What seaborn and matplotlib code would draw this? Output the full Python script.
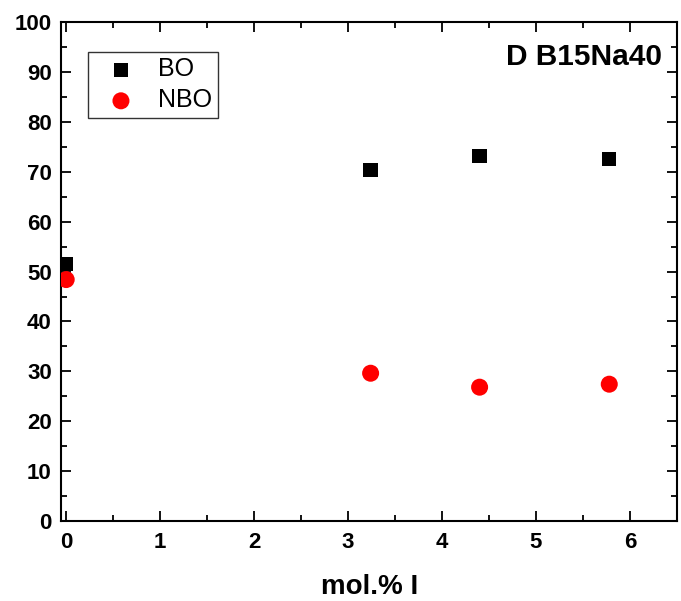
import matplotlib
matplotlib.use("Agg")
import matplotlib.pyplot as plt
from matplotlib.ticker import MultipleLocator
import seaborn as sns
import pandas as pd

# Iodine content (mol.%) and oxygen speciation fractions (%)
iodine_mol = [0.0, 3.24, 4.40, 5.78]
bo_values = [51.6, 70.4, 73.2, 72.6]
nbo_values = [48.4, 29.6, 26.8, 27.4]
series_names = ["BO", "NBO"]
sample_label = "D B15Na40"
x_label = "mol.% I"

sns.set_theme(style="ticks")
plt.rcParams["font.family"] = ["Liberation Sans", "DejaVu Sans"]
plt.rcParams["text.color"] = "black"
plt.rcParams["axes.labelcolor"] = "black"
plt.rcParams["xtick.color"] = "black"
plt.rcParams["ytick.color"] = "black"

df = pd.concat([
    pd.DataFrame({"x": iodine_mol, "y": bo_values, "series": series_names[0]}),
    pd.DataFrame({"x": iodine_mol, "y": nbo_values, "series": series_names[1]}),
])

fig = plt.figure(figsize=(6.81, 6.01), dpi=100)
ax = fig.add_axes([0.0903, 0.1336, 0.9037, 0.829])

sns.scatterplot(data=df[df.series == "BO"], x="x", y="y", marker="s", s=105,
                color="black", edgecolor="none", ax=ax, label="BO", zorder=3)
sns.scatterplot(data=df[df.series == "NBO"], x="x", y="y", marker="o", s=150,
                color="red", edgecolor="none", ax=ax, label="NBO", zorder=3)

ax.set_xlim(-0.05, 6.5)
ax.set_ylim(0, 100)
ax.xaxis.set_major_locator(MultipleLocator(1))
ax.xaxis.set_minor_locator(MultipleLocator(0.5))
ax.yaxis.set_major_locator(MultipleLocator(10))
ax.yaxis.set_minor_locator(MultipleLocator(5))

for side in ["left", "right", "top", "bottom"]:
    ax.spines[side].set_visible(True)
    ax.spines[side].set_linewidth(1.5)
    ax.spines[side].set_color("black")

ax.tick_params(which="both", direction="in", top=True, right=True,
               color="black", labelcolor="black", width=1.3)
ax.tick_params(which="major", length=7, labelsize=16, pad=7)
ax.tick_params(which="minor", length=4)
for lbl in ax.get_xticklabels() + ax.get_yticklabels():
    lbl.set_fontweight("bold")
ax.tick_params(axis="x", which="major", pad=8)

ax.set_xlabel(x_label, fontsize=20, fontweight="bold", labelpad=15,
              color="black")
ax.set_ylabel("")

ax.text(0.976, 0.93, sample_label, transform=ax.transAxes, ha="right",
        va="center", fontsize=21.5, fontweight="bold", color="black")

leg = ax.legend(loc="upper left", bbox_to_anchor=(0.043, 0.941), fontsize=18,
                frameon=True, fancybox=False, edgecolor="black",
                borderpad=0.22, labelspacing=0.28, handletextpad=0.38,
                handlelength=2.2, borderaxespad=0)
leg.get_frame().set_linewidth(1.0)
for t in leg.get_texts():
    t.set_color("black")

fig.savefig("out.png", dpi=100)
